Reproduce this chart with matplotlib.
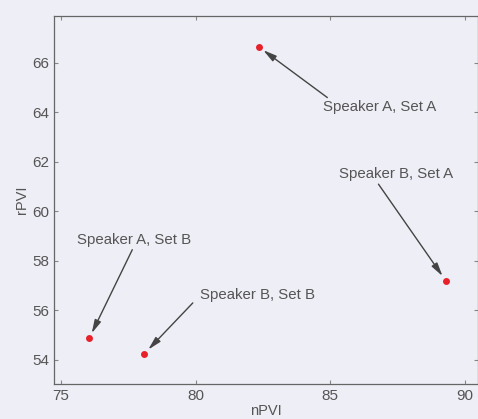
import matplotlib.pyplot as plt

# nPVI / rPVI per speaker and sentence set
labels = ['Speaker A, Set A', 'Speaker B, Set A', 'Speaker A, Set B', 'Speaker B, Set B']
npvi = [82.35, 89.3, 76.05, 78.1]
rpvi = [66.65, 57.2, 54.87, 54.25]
# where each label sits (data coords)
label_x = [86.85, 87.45, 77.7, 82.3]
label_y = [64.2, 61.5, 58.85, 56.6]
# arrow tails, near the label text
tail_x = [84.9, 86.8, 77.65, 79.9]
tail_y = [64.6, 61.1, 58.45, 56.3]

bg = '#eeeef6'
ink = '#555555'

plt.rcParams['font.family'] = ['Liberation Sans', 'DejaVu Sans']
fig = plt.figure(figsize=(4.78, 4.19), dpi=100, facecolor=bg)
ax = fig.add_axes([0.113, 0.084, 0.887, 0.878], facecolor=bg)

ax.plot(npvi, rpvi, 'o', color='#e8202a', markersize=5, markeredgewidth=0)

for i in range(len(labels)):
    ax.text(label_x[i], label_y[i], labels[i], ha='center', va='center',
            fontsize=10.8, color=ink)
    ax.annotate('', xy=(npvi[i], rpvi[i]), xytext=(tail_x[i], tail_y[i]),
                arrowprops=dict(arrowstyle='-|>,head_length=0.8,head_width=0.2',
                                color='#444444', lw=1, shrinkA=0, shrinkB=4))

ax.set_xlim(74.74, 90.5)
ax.set_ylim(53.03, 67.9)
ax.set_xticks([75, 80, 85, 90])
ax.set_yticks([54, 56, 58, 60, 62, 64, 66])
ax.tick_params(direction='in', top=True, right=True, length=3, width=0.8,
               colors='#888888', labelcolor=ink, labelsize=11)
for s in ax.spines.values():
    s.set_color('#666666')
    s.set_linewidth(0.9)
ax.set_xlabel('nPVI', fontsize=10.5, color=ink, labelpad=1)
ax.set_ylabel('rPVI', fontsize=10.5, color=ink, labelpad=2)

fig.savefig('out.png', dpi=100, facecolor=bg)
